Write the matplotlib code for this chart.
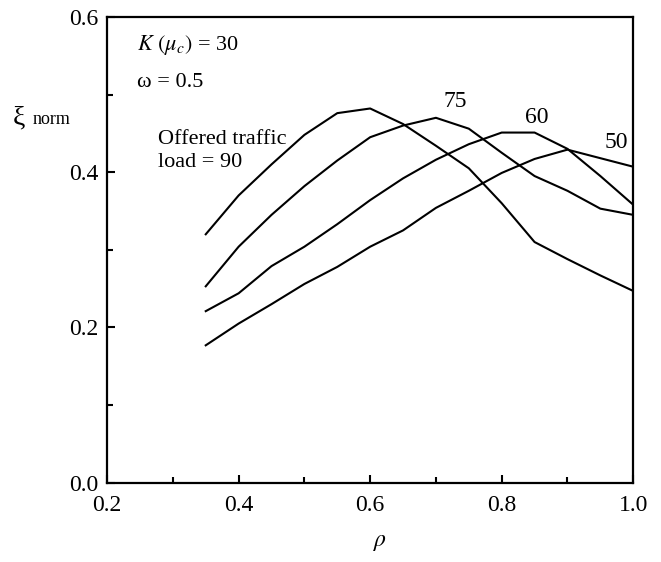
import numpy as np
import matplotlib
matplotlib.use('Agg')
import matplotlib.pyplot as plt

plt.rcParams['font.family'] = ['Liberation Serif', 'DejaVu Serif']
plt.rcParams['mathtext.fontset'] = 'stix'

rho = [0.35, 0.40, 0.45, 0.50, 0.55, 0.60, 0.65, 0.70,
       0.75, 0.80, 0.85, 0.90, 0.95, 1.00]
# xi_norm for each offered traffic load
load_90 = [0.320, 0.370, 0.410, 0.448, 0.476, 0.482, 0.462, 0.434,
           0.405, 0.360, 0.310, 0.288, 0.267, 0.247]
load_75 = [0.253, 0.304, 0.345, 0.382, 0.415, 0.445, 0.460, 0.470,
           0.456, 0.425, 0.395, 0.376, 0.353, 0.345]
load_60 = [0.221, 0.244, 0.279, 0.304, 0.333, 0.364, 0.392, 0.416,
           0.436, 0.451, 0.451, 0.430, 0.395, 0.358]
load_50 = [0.177, 0.205, 0.230, 0.256, 0.278, 0.304, 0.325, 0.354,
           0.376, 0.399, 0.417, 0.429, 0.418, 0.407]

fig = plt.figure(figsize=(6.61, 5.62), dpi=100)
ax = fig.add_axes([0.162, 0.141, 0.796, 0.829])

for y in [load_90, load_75, load_60, load_50]:
    ax.plot(rho, y, color='black', lw=1.5)

ax.set_xlim(0.2, 1.0)
ax.set_ylim(0.0, 0.6)
ax.set_xticks([0.2, 0.4, 0.6, 0.8, 1.0])
ax.set_yticks([0.0, 0.2, 0.4, 0.6])
ax.set_xticks(np.arange(0.3, 1.0, 0.2), minor=True)
ax.set_yticks([0.1, 0.3, 0.5], minor=True)
ax.tick_params(which='both', direction='in', top=False, right=False,
               width=1.5, labelsize=17)
ax.tick_params(which='major', length=6)
ax.tick_params(which='minor', length=4)
ax.tick_params(axis='x', pad=9)
ax.tick_params(axis='y', pad=6)
for s in ax.spines.values():
    s.set_linewidth(1.6)

ax.text(0.246, 0.564, r'$K\ (\mu_c)$ = 30', fontsize=16, va='center')
ax.text(0.246, 0.516, 'ω = 0.5', fontsize=16, va='center')
ax.text(0.278, 0.442, 'Offered traffic', fontsize=16, va='center')
ax.text(0.278, 0.413, 'load = 90', fontsize=16, va='center')
ax.text(0.729, 0.491, '75', fontsize=17, ha='center', va='center')
ax.text(0.853, 0.470, '60', fontsize=17, ha='center', va='center')
ax.text(0.975, 0.438, '50', fontsize=17, ha='center', va='center')

fig.text(0.019, 0.79, 'ξ', fontsize=20, va='center')
fig.text(0.050, 0.787, 'norm', fontsize=13, va='center')
fig.text(0.575, 0.034, r'$\rho$', fontsize=17, ha='center', va='center')

fig.savefig('out.png', dpi=100)
